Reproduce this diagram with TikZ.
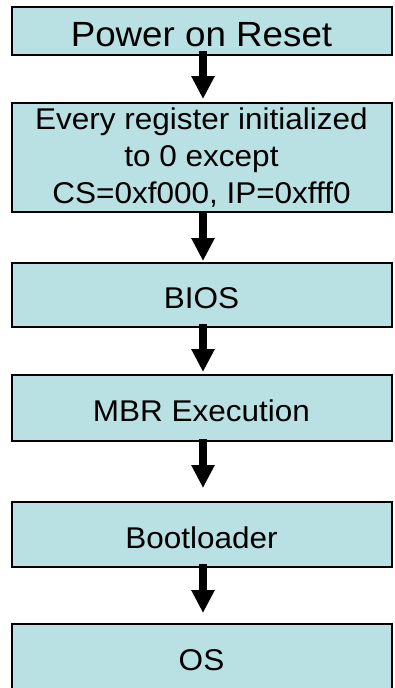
\documentclass[tikz,border=0pt]{standalone}
\usepackage{fontspec}
\setmainfont[FakeStretch=1.05]{Liberation Sans}
\usetikzlibrary{arrows.meta}
\definecolor{boxfill}{RGB}{185,224,227}
\tikzset{
  stepbox/.style={draw=black, line width=2pt, fill=boxfill, minimum width=380pt,
    inner sep=0pt, align=center, font=\fontsize{30}{37}\selectfont,
    text height=27.5pt, text depth=0pt},
  flowarrow/.style={line width=8pt, -{Triangle[width=22pt,length=23pt]}}
}
\begin{document}
\begin{tikzpicture}[x=1pt,y=-1pt]
\useasboundingbox (0,0) rectangle (395,688);
\clip (0,0) rectangle (395,688);
\node[stepbox, minimum height=48pt, font=\fontsize{35}{40}\selectfont, text height=31pt] (b1) at (201.5,31) {Power on Reset};
\node[stepbox, minimum height=109pt, text height=, text depth=] (b2) at (201.5,157.5) {Every register initialized\\to 0 except\\CS=0xf000, IP=0xfff0};
\node[stepbox, minimum height=64pt] (b3) at (201.5,295) {BIOS};
\node[stepbox, minimum height=66pt] (b4) at (201.5,408) {MBR Execution};
\node[stepbox, minimum height=65pt] (b5) at (201.5,534.5) {Bootloader};
\node[stepbox, minimum height=76pt] (b6) at (201.5,662) {};
\node[inner sep=0pt, font=\fontsize{30}{37}\selectfont, text height=27.5pt, text depth=0pt] (b6t) at (201.5,656.5) {OS};
\draw[flowarrow, shorten <=-5pt, shorten >=3pt] ([xshift=1.5pt]b1.south) -- ([xshift=1.5pt]b2.north);
\draw[flowarrow, shorten <=-2pt, shorten >=1pt] ([xshift=1.5pt]b2.south) -- ([xshift=1.5pt]b3.north);
\draw[flowarrow, shorten <=-4pt, shorten >=2pt] ([xshift=1.5pt]b3.south) -- ([xshift=1.5pt]b4.north);
\draw[flowarrow, shorten <=-3pt, shorten >=13pt] ([xshift=1.5pt]b4.south) -- ([xshift=1.5pt]b5.north);
\draw[flowarrow, shorten <=-4pt, shorten >=10pt] ([xshift=1.5pt]b5.south) -- ([xshift=1.5pt]b6.north);
\end{tikzpicture}
\end{document}
